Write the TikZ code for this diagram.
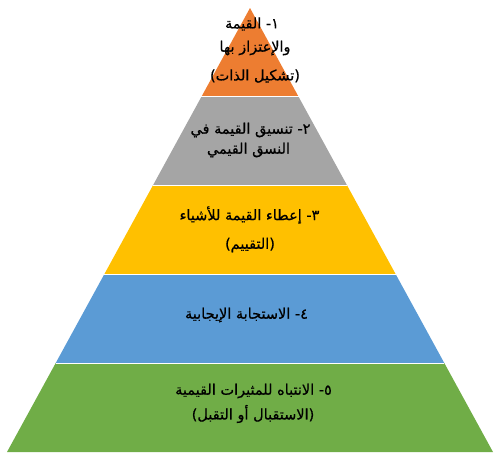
\documentclass[tikz,border=0pt]{standalone}
\usepackage{fontspec}
\newfontfamily\arabicfont[Script=Arabic,FakeBold=0.6]{DejaVu Sans}
\TeXXeTstate=1
\definecolor{cOrange}{HTML}{ED7D31}
\definecolor{cGray}{HTML}{A5A5A5}
\definecolor{cYellow}{HTML}{FFC000}
\definecolor{cBlue}{HTML}{5B9BD5}
\definecolor{cGreen}{HTML}{70AD47}
\tikzset{
  sep/.style={draw=white, line width=0.9pt},
  lbl/.style={font=\arabicfont\fontsize{14.5}{16}\selectfont, text=black, inner sep=0pt},
}
\newcommand{\ar}[1]{\beginR #1\endR}
\begin{document}
\begin{tikzpicture}[x=1pt,y=-1pt]
\useasboundingbox (0,0) rectangle (500,466);
\coordinate (A) at (250,8);
\coordinate (L1) at (201.4,96.8);  \coordinate (R1) at (298.6,96.8);
\coordinate (L2) at (152.8,185.6); \coordinate (R2) at (347.2,185.6);
\coordinate (L3) at (104.2,274.4); \coordinate (R3) at (395.8,274.4);
\coordinate (L4) at (55.6,363.2);  \coordinate (R4) at (444.4,363.2);
\coordinate (L5) at (7,452);       \coordinate (R5) at (493,452);
\fill[cGreen]  (L4) -- (R4) -- (R5) -- (L5) -- cycle;
\fill[cBlue]   (L3) -- (R3) -- (R4) -- (L4) -- cycle;
\fill[cYellow] (L2) -- (R2) -- (R3) -- (L3) -- cycle;
\fill[cGray]   (L1) -- (R1) -- (R2) -- (L2) -- cycle;
\fill[cOrange] (A) -- (R1) -- (L1) -- cycle;
\draw[sep] (L1) -- (R1) (L2) -- (R2) (L3) -- (R3) (L4) -- (R4);
% texts
\node[lbl] (t1a) at (252,24) {\ar{١- القيمة}};
\node[lbl] (t1b) at (255,48) {\ar{والإعتزاز بها}};
\node[lbl] (t1c) at (255,76) {\ar{(تشكيل الذات)}};
\node[lbl] (t2a) at (250.5,130) {\ar{٢- تنسيق القيمة في}};
\node[lbl] (t2b) at (248.5,150) {\ar{النسق القيمي}};
\node[lbl] (t3a) at (249.5,215) {\ar{٣- إعطاء القيمة للأشياء}};
\node[lbl] (t3b) at (250,245) {\ar{(التقييم)}};
\node[lbl] (t4a) at (246.5,315) {\ar{٤- الاستجابة الإيجابية}};
\node[lbl] (t5a) at (253.5,391) {\ar{٥- الانتباه للمثيرات القيمية}};
\node[lbl] (t5b) at (253,414) {\ar{(الاستقبال أو التقبل)}};
\end{tikzpicture}
\end{document}
